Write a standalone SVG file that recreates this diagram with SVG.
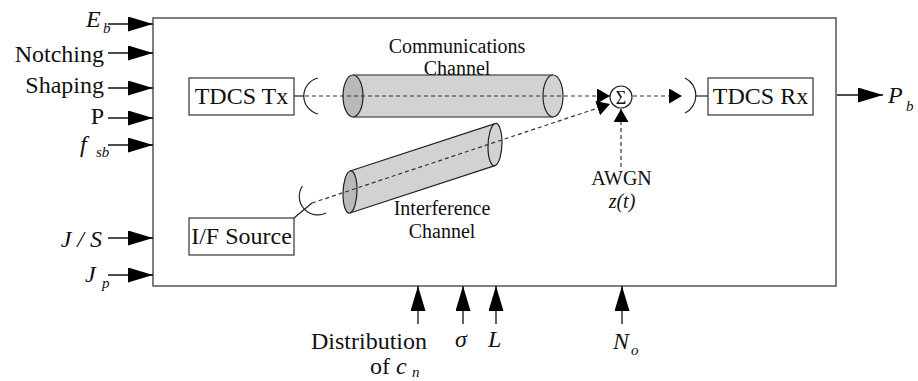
<svg xmlns="http://www.w3.org/2000/svg" width="918" height="381" viewBox="0 0 918 381">
  <defs>
    <style>
      text { font-family: "Liberation Serif", "Times New Roman", "DejaVu Serif", serif; fill: #111; }
      .lbl { font-size: 24px; }
      .it { font-style: italic; }
      .sub { font-size: 15px; font-style: italic; }
      .ch { font-size: 20px; }
      .frame { fill: #fff; stroke: #555; stroke-width: 1.5; }
      .blk { fill: #fff; stroke: #333; stroke-width: 1.2; }
      .in { stroke: #111; stroke-width: 1.3; fill: none; marker-end: url(#bigArrow); }
      .beam { stroke: #333; stroke-width: 1.2; stroke-dasharray: 4 3; fill: none; marker-end: url(#smallArrow); }
      .wire { stroke: #222; stroke-width: 1.2; fill: none; }
      .body { fill: #d2d2d2; stroke: none; }
      .edge { stroke: #222; stroke-width: 1.2; fill: none; }
      .capFront { fill: #b9b9b9; stroke: #222; stroke-width: 1.2; }
      .capBack { fill: #d2d2d2; stroke: #222; stroke-width: 1.2; }
    </style>
    <marker id="bigArrow" markerUnits="userSpaceOnUse" markerWidth="25" markerHeight="16" refX="25" refY="7.5" orient="auto">
      <path d="M0,0 L25,7.5 L0,15 z" fill="#000"/>
    </marker>
    <marker id="smallArrow" markerUnits="userSpaceOnUse" markerWidth="14" markerHeight="16" refX="13" refY="7.5" orient="auto">
      <path d="M0,0 L13,7.5 L0,15 z" fill="#000"/>
    </marker>
  </defs>

  <!-- system boundary -->
  <g id="system">
    <rect class="frame" x="153" y="18" width="683" height="268"/>
  </g>

  <!-- communications channel cylinder -->
  <g id="comm-channel">
    <rect class="body" x="353" y="75" width="200" height="42"/>
    <line class="edge" x1="353" y1="75" x2="553" y2="75"/>
    <line class="edge" x1="353" y1="117" x2="553" y2="117"/>
    <ellipse class="capBack" cx="553" cy="96" rx="10" ry="21"/>
    <ellipse class="capFront" cx="353" cy="96" rx="10" ry="21"/>
    <text class="ch" x="457" y="53" text-anchor="middle">Communications</text>
    <text class="ch" x="457" y="75" text-anchor="middle">Channel</text>
  </g>

  <!-- interference channel cylinder -->
  <g id="interference-channel">
    <g transform="translate(350,192) skewY(-18.1)">
      <rect class="body" x="0" y="-21" width="145" height="42"/>
      <line class="edge" x1="0" y1="-21" x2="145" y2="-21" vector-effect="non-scaling-stroke"/>
      <line class="edge" x1="0" y1="21" x2="145" y2="21" vector-effect="non-scaling-stroke"/>
      <ellipse class="capBack" cx="145" cy="0" rx="7" ry="21" vector-effect="non-scaling-stroke"/>
      <ellipse class="capFront" cx="0" cy="0" rx="7" ry="21" vector-effect="non-scaling-stroke"/>
    </g>
    <text class="ch" x="442" y="215" text-anchor="middle">Interference</text>
    <text class="ch" x="442" y="238" text-anchor="middle">Channel</text>
  </g>

  <!-- transmitter -->
  <g id="tdcs-tx">
    <rect class="blk" x="189" y="78" width="105" height="37"/>
    <text class="lbl" x="241.5" y="104" text-anchor="middle">TDCS Tx</text>
    <line class="wire" x1="294" y1="96" x2="304" y2="96"/>
    <path class="wire" d="M318,78 A18.5,18.5 0 0,0 318,114"/>
  </g>

  <!-- interference source -->
  <g id="if-source">
    <rect class="blk" x="189" y="218" width="105" height="37"/>
    <text class="lbl" x="241.5" y="244" text-anchor="middle">I/F Source</text>
    <line class="wire" x1="294" y1="218" x2="312" y2="203"/>
    <path class="wire" d="M302.5,186 A18.5,18.5 0 0,0 326,213"/>
  </g>

  <!-- summing junction -->
  <g id="sum">
    <circle cx="621" cy="97" r="11" fill="#fff" stroke="#222" stroke-width="1.2"/>
    <text x="621" y="103.5" text-anchor="middle" font-size="18">Σ</text>
  </g>

  <!-- noise source label -->
  <g id="awgn">
    <text class="ch" x="621.5" y="185" text-anchor="middle">AWGN</text>
    <text class="ch it" x="622" y="208" text-anchor="middle">z(t)</text>
  </g>

  <!-- receiver -->
  <g id="tdcs-rx">
    <path class="wire" d="M685,78 A19.5,19.5 0 0,1 685,113"/>
    <line class="wire" x1="695" y1="96" x2="708" y2="96"/>
    <rect class="blk" x="708" y="78" width="105" height="37"/>
    <text class="lbl" x="760.5" y="104" text-anchor="middle">TDCS Rx</text>
  </g>

  <!-- signal paths and parameter inputs -->
  <g id="connectors">
    <line class="beam" x1="305" y1="96" x2="610" y2="96"/>
    <line class="beam" x1="312" y1="203" x2="610" y2="104"/>
    <line class="beam" x1="621" y1="167" x2="621" y2="109"/>
    <line class="beam" x1="633" y1="96" x2="682" y2="96"/>

    <line class="in" x1="108" y1="24" x2="153" y2="24"/>
    <line class="in" x1="108" y1="53" x2="153" y2="53"/>
    <line class="in" x1="108" y1="88" x2="153" y2="88"/>
    <line class="in" x1="108" y1="118" x2="153" y2="118"/>
    <line class="in" x1="108" y1="145" x2="153" y2="145"/>
    <line class="in" x1="108" y1="238" x2="153" y2="238"/>
    <line class="in" x1="108" y1="275" x2="153" y2="275"/>

    <line class="in" x1="418" y1="324" x2="418" y2="286"/>
    <line class="in" x1="463" y1="324" x2="463" y2="286"/>
    <line class="in" x1="496" y1="324" x2="496" y2="286"/>
    <line class="in" x1="622" y1="324" x2="622" y2="286"/>

    <line class="in" x1="837" y1="95" x2="883" y2="95"/>
  </g>

  <!-- parameter labels -->
  <g id="labels-left">
    <text class="lbl it" x="86" y="27">E</text>
    <text class="sub" x="103" y="33">b</text>
    <text class="lbl" x="104" y="62" text-anchor="end">Notching</text>
    <text class="lbl" x="104" y="93" text-anchor="end">Shaping</text>
    <text class="lbl" x="104" y="124" text-anchor="end">P</text>
    <text class="lbl it" x="80" y="152">f</text>
    <text class="sub" x="96" y="157">sb</text>
    <text class="lbl it" x="102" y="247" text-anchor="end">J / S</text>
    <text class="lbl it" x="85" y="282">J</text>
    <text class="sub" x="102" y="288">p</text>
  </g>

  <g id="labels-bottom">
    <text class="lbl" x="427" y="349" text-anchor="end">Distribution</text>
    <text class="lbl" x="370" y="374">of <tspan class="it">c</tspan></text>
    <text class="sub" x="412" y="377" font-size="14">n</text>
    <text class="lbl it" x="455" y="347">σ</text>
    <text class="lbl it" x="488" y="347">L</text>
    <text class="lbl it" x="613" y="349">N</text>
    <text class="sub" x="631" y="355">o</text>
  </g>

  <g id="labels-right">
    <text class="lbl it" x="888" y="103">P</text>
    <text class="sub" x="906" y="111">b</text>
  </g>
</svg>
